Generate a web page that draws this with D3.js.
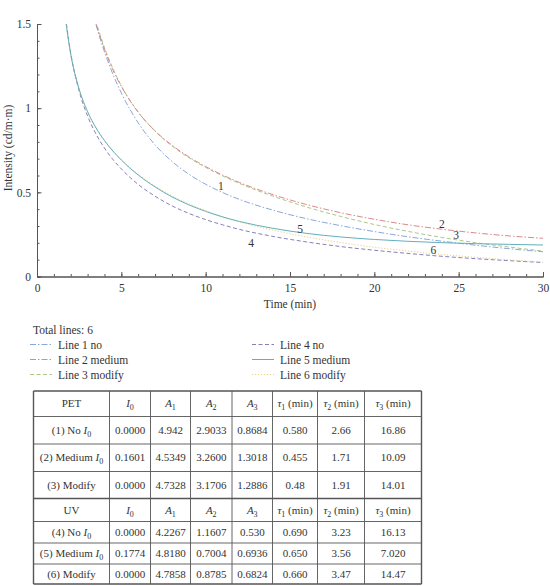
<!DOCTYPE html>
<html>
<head>
<meta charset="utf-8">
<script src="https://cdn.jsdelivr.net/npm/d3@7"></script>
<style>
body { margin: 0; background: #fff; }
svg text { font-family: 'Liberation Serif', 'DejaVu Serif', serif; fill: #333; }
</style>
</head>
<body>
<div id="visualization"></div>
<script>
// time grid (min) and the six curves
var times = [1.5, 2, 2.5, 3, 3.5, 4, 4.5, 5, 6, 7, 8, 9, 10, 11, 12, 14, 16, 18, 20, 22, 24, 26, 28, 30]
var line1 = [null, null, null, 1.695, 1.496, 1.335, 1.202, 1.090, 0.913, 0.782, 0.684, 0.608, 0.548, 0.499, 0.458, 0.394, 0.343, 0.302, 0.267, 0.236, 0.210, 0.186, 0.165, 0.147]
var line2 = [null, null, null, 1.697, 1.503, 1.351, 1.228, 1.129, 0.976, 0.865, 0.780, 0.711, 0.653, 0.603, 0.559, 0.486, 0.427, 0.379, 0.340, 0.307, 0.281, 0.259, 0.241, 0.227]
var line3 = [null, null, null, 1.709, 1.514, 1.360, 1.236, 1.133, 0.977, 0.863, 0.776, 0.706, 0.648, 0.598, 0.553, 0.477, 0.412, 0.357, 0.309, 0.268, 0.232, 0.201, 0.175, 0.151]
var line4 = [1.693, 1.326, 1.102, 0.953, 0.846, 0.763, 0.695, 0.639, 0.547, 0.477, 0.420, 0.375, 0.338, 0.307, 0.280, 0.238, 0.205, 0.178, 0.156, 0.137, 0.120, 0.106, 0.094, 0.083]
var line5 = [1.677, 1.321, 1.113, 0.979, 0.883, 0.808, 0.745, 0.692, 0.603, 0.532, 0.473, 0.426, 0.387, 0.354, 0.327, 0.286, 0.256, 0.235, 0.220, 0.209, 0.201, 0.195, 0.191, 0.187]
var line6 = [1.678, 1.319, 1.110, 0.976, 0.880, 0.806, 0.746, 0.694, 0.607, 0.538, 0.480, 0.432, 0.391, 0.356, 0.325, 0.275, 0.235, 0.202, 0.174, 0.151, 0.131, 0.114, 0.099, 0.086]

var seriesNames = ['Line 1 no', 'Line 2 medium', 'Line 3 modify', 'Line 4 no', 'Line 5 medium', 'Line 6 modify']
var xTicks = [0, 5, 10, 15, 20, 25, 30]
var yTicks = [0, 0.5, 1, 1.5]

// curve number labels (time, intensity)
var labelText = ['1', '2', '3', '4', '5', '6']
var labelT = [10.9, 24.0, 24.85, 12.7, 15.6, 23.5]
var labelV = [0.535, 0.31, 0.248, 0.197, 0.28, 0.155]

// table
var headerPet = ['PET', 'I_0', 'A_1', 'A_2', 'A_3', 'τ_1 (min)', 'τ_2 (min)', 'τ_3 (min)']
var headerUv = ['UV', 'I_0', 'A_1', 'A_2', 'A_3', 'τ_1 (min)', 'τ_2 (min)', 'τ_3 (min)']
var rowNames = ['(1) No I_0', '(2) Medium I_0', '(3) Modify', '(4) No I_0', '(5) Medium I_0', '(6) Modify']
var i0Values = ['0.0000', '0.1601', '0.0000', '0.0000', '0.1774', '0.0000']
var a1Values = ['4.942', '4.5349', '4.7328', '4.2267', '4.8180', '4.7858']
var a2Values = ['2.9033', '3.2600', '3.1706', '1.1607', '0.7004', '0.8785']
var a3Values = ['0.8684', '1.3018', '1.2886', '0.530', '0.6936', '0.6824']
var tau1Values = ['0.580', '0.455', '0.48', '0.690', '0.650', '0.660']
var tau2Values = ['2.66', '1.71', '1.91', '3.23', '3.56', '3.47']
var tau3Values = ['16.86', '10.09', '14.01', '16.13', '7.020', '14.47']

var colors = ['#8aa7d9', '#d98a8c', '#abc787', '#8580b8', '#62afbd', '#ecd08a']
var dashes = ['6,2,1.5,2', '6,2,1.5,2', '4,2.5', '4,2.5', null, '1.2,1.8']

var svg = d3.select('#visualization')
  .append('svg')
  .attr('width', 550)
  .attr('height', 586)

var x = d3.scaleLinear().domain([0, 30]).range([37, 543])
var y = d3.scaleLinear().domain([0, 1.5]).range([276.5, 24])

svg.append('clipPath')
  .attr('id', 'plotclip')
  .append('rect')
  .attr('x', 37)
  .attr('y', 24)
  .attr('width', 506)
  .attr('height', 253)

function styleAxis (g) {
  g.select('.domain').attr('stroke', '#555')
  g.selectAll('.tick line').attr('stroke', '#555')
  g.selectAll('text')
    .style('font-family', "'Liberation Serif', serif")
    .style('font-size', '11.5px')
    .attr('fill', '#333')
}

// minor ticks
svg.append('g')
  .attr('transform', 'translate(0,276.5)')
  .call(d3.axisBottom(x).tickValues(d3.range(0, 31, 1)).tickSize(-2.5).tickFormat(''))
  .call(styleAxis)
svg.append('g')
  .attr('transform', 'translate(37,0)')
  .call(d3.axisLeft(y).tickValues(d3.range(0, 1.51, 0.1)).tickSize(-2.5).tickFormat(''))
  .call(styleAxis)

// major ticks
var xAxis = svg.append('g')
  .attr('transform', 'translate(0,276.5)')
  .call(d3.axisBottom(x).tickValues(xTicks).tickSizeInner(-4.5).tickSizeOuter(0).tickPadding(7)
    .tickFormat(function (d) { return String(d) }))
  .call(styleAxis)
var yAxis = svg.append('g')
  .attr('transform', 'translate(37,0)')
  .call(d3.axisLeft(y).tickValues(yTicks).tickSizeInner(-4.5).tickSizeOuter(0).tickPadding(6)
    .tickFormat(function (d) { return String(d) }))
  .call(styleAxis)

svg.append('text')
  .attr('x', 290)
  .attr('y', 308)
  .attr('text-anchor', 'middle')
  .style('font-size', '11.5px')
  .text('Time (min)')

svg.append('text')
  .attr('transform', 'translate(12,148) rotate(-90)')
  .attr('text-anchor', 'middle')
  .style('font-size', '11.5px')
  .text('Intensity (cd/m·m)')

// curves
var allLines = [line1, line2, line3, line4, line5, line6]
var line = d3.line()
  .defined(function (d) { return d.v != null })
  .x(function (d) { return x(d.t) })
  .y(function (d) { return y(d.v) })
  .curve(d3.curveMonotoneX)

var plot = svg.append('g').attr('clip-path', 'url(#plotclip)')
var drawOrder = [3, 5, 0, 2, 1, 4]
drawOrder.forEach(function (i) {
  var pts = times.map(function (t, j) { return {t: t, v: allLines[i][j]} })
  plot.append('path')
    .datum(pts)
    .attr('d', line)
    .attr('fill', 'none')
    .attr('stroke', colors[i])
    .attr('stroke-width', 1)
    .attr('stroke-dasharray', dashes[i])
})

for (var k = 0; k < labelText.length; k++) {
  svg.append('text')
    .attr('x', x(labelT[k]))
    .attr('y', y(labelV[k]))
    .attr('dy', '.35em')
    .attr('text-anchor', 'middle')
    .style('font-size', '11.5px')
    .text(labelText[k])
}

// legend
svg.append('text')
  .attr('x', 33)
  .attr('y', 334)
  .style('font-size', '11.5px')
  .text('Total lines: ' + allLines.length)

var legend = svg.selectAll('.legend')
  .data(seriesNames)
  .enter()
  .append('g')
  .attr('class', 'legend')
  .attr('transform', function (d, i) {
    return 'translate(' + (i < 3 ? 30 : 252) + ',' + (344.5 + (i % 3) * 15) + ')'
  })
legend.append('line')
  .attr('x1', 0)
  .attr('x2', 22)
  .attr('stroke', function (d, i) { return colors[i] })
  .attr('stroke-width', 1)
  .attr('stroke-dasharray', function (d, i) { return dashes[i] })
legend.append('text')
  .attr('x', 28)
  .attr('dy', '.35em')
  .style('font-size', '11.5px')
  .text(function (d) { return d })

// table
function richText (sel, str) {
  var parts = str.split(/([A-Za-zτ]_\d)/)
  var shift = 0
  parts.forEach(function (p) {
    if (p === '') return
    var m = p.match(/^([A-Za-zτ])_(\d)$/)
    if (m) {
      sel.append('tspan').attr('dy', shift).style('font-style', 'italic').text(m[1])
      sel.append('tspan').attr('dy', 3).style('font-size', '8px').text(m[2])
      shift = -3
    } else {
      sel.append('tspan').attr('dy', shift).text(p)
      shift = 0
    }
  })
}

var colEdges = [33.5, 109.5, 150.5, 190.5, 232, 272.5, 317.5, 364.5, 421.5]
var rowEdges = [391, 416.5, 444, 471.5, 498.5, 521.5, 543, 564, 584]

var tableRows = [headerPet]
for (var r = 0; r < rowNames.length; r++) {
  if (r === 3) tableRows.push(headerUv)
  tableRows.push([rowNames[r], i0Values[r], a1Values[r], a2Values[r], a3Values[r], tau1Values[r], tau2Values[r], tau3Values[r]])
}

var table = svg.append('g')
tableRows.forEach(function (row, ri) {
  var cy = (rowEdges[ri] + rowEdges[ri + 1]) / 2
  row.forEach(function (cell, ci) {
    var cx = (colEdges[ci] + colEdges[ci + 1]) / 2
    var t = table.append('text')
      .attr('x', cx)
      .attr('y', cy + 3.5)
      .attr('text-anchor', 'middle')
      .style('font-size', '11px')
    richText(t, cell)
  })
})

rowEdges.forEach(function (ry, i) {
  table.append('line')
    .attr('x1', colEdges[0])
    .attr('x2', colEdges[colEdges.length - 1])
    .attr('y1', ry)
    .attr('y2', ry)
    .attr('stroke', '#555')
    .attr('stroke-width', i === 4 || i === 0 || i === rowEdges.length - 1 ? 1.4 : 0.9)
})
colEdges.forEach(function (cx, i) {
  table.append('line')
    .attr('x1', cx)
    .attr('x2', cx)
    .attr('y1', rowEdges[0])
    .attr('y2', rowEdges[rowEdges.length - 1])
    .attr('stroke', '#555')
    .attr('stroke-width', i === 0 || i === colEdges.length - 1 ? 1.4 : 0.9)
})
</script>
</body>
</html>
